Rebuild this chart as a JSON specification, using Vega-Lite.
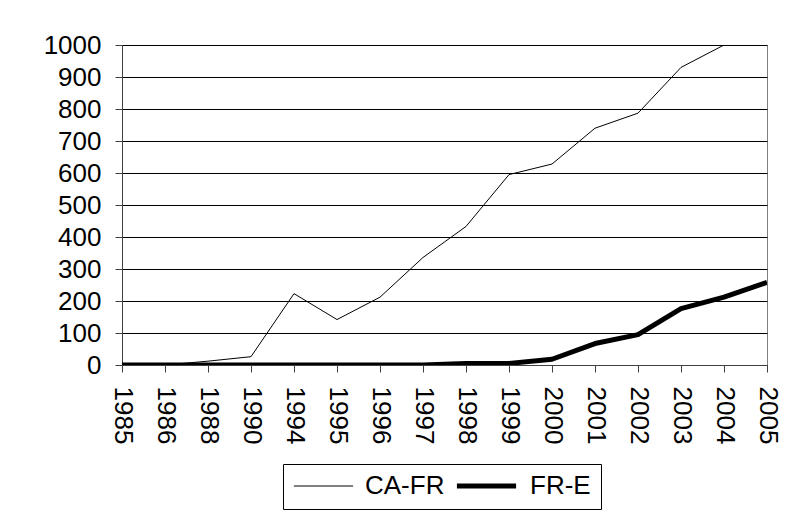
{
  "$schema": "https://vega.github.io/schema/vega-lite/v6.json",
  "width": 645,
  "height": 320,
  "autosize": {"type": "none"},
  "padding": {"left": 122, "top": 45, "right": 38, "bottom": 148},
  "background": "white",
  "config": {
    "font": "Liberation Sans",
    "view": {"stroke": "#808080", "strokeWidth": 1}
  },
  "data": {
    "values": [
      {"year": "1985", "series": "CA-FR", "value": 0},
      {"year": "1986", "series": "CA-FR", "value": 0},
      {"year": "1988", "series": "CA-FR", "value": 12},
      {"year": "1990", "series": "CA-FR", "value": 26},
      {"year": "1994", "series": "CA-FR", "value": 223},
      {"year": "1995", "series": "CA-FR", "value": 142},
      {"year": "1996", "series": "CA-FR", "value": 212},
      {"year": "1997", "series": "CA-FR", "value": 336},
      {"year": "1998", "series": "CA-FR", "value": 433},
      {"year": "1999", "series": "CA-FR", "value": 595},
      {"year": "2000", "series": "CA-FR", "value": 628},
      {"year": "2001", "series": "CA-FR", "value": 740},
      {"year": "2002", "series": "CA-FR", "value": 787},
      {"year": "2003", "series": "CA-FR", "value": 930},
      {"year": "2004", "series": "CA-FR", "value": 1000},
      {"year": "2005", "series": "CA-FR", "value": 1000},
      {"year": "1985", "series": "FR-E", "value": 0},
      {"year": "1986", "series": "FR-E", "value": 0},
      {"year": "1988", "series": "FR-E", "value": 0},
      {"year": "1990", "series": "FR-E", "value": 0},
      {"year": "1994", "series": "FR-E", "value": 0},
      {"year": "1995", "series": "FR-E", "value": 0},
      {"year": "1996", "series": "FR-E", "value": 0},
      {"year": "1997", "series": "FR-E", "value": 0},
      {"year": "1998", "series": "FR-E", "value": 5},
      {"year": "1999", "series": "FR-E", "value": 5},
      {"year": "2000", "series": "FR-E", "value": 18},
      {"year": "2001", "series": "FR-E", "value": 67},
      {"year": "2002", "series": "FR-E", "value": 95},
      {"year": "2003", "series": "FR-E", "value": 176},
      {"year": "2004", "series": "FR-E", "value": 212},
      {"year": "2005", "series": "FR-E", "value": 258}
    ]
  },
  "mark": {"type": "line", "color": "black", "strokeJoin": "round", "clip": true},
  "encoding": {
    "x": {
      "field": "year",
      "type": "ordinal",
      "scale": {"type": "point", "padding": 0},
      "axis": {
        "title": null,
        "labelAngle": 90,
        "labelAlign": "left",
        "labelBaseline": "middle",
        "labelFontSize": 26,
        "labelColor": "black",
        "labelPadding": 14,
        "labelOverlap": false,
        "tickSize": 7,
        "tickColor": "#404040",
        "domainColor": "#404040",
        "grid": false
      }
    },
    "y": {
      "field": "value",
      "type": "quantitative",
      "scale": {"domain": [0, 1000], "nice": false},
      "axis": {
        "title": null,
        "values": [0, 100, 200, 300, 400, 500, 600, 700, 800, 900, 1000],
        "format": "d",
        "labelFontSize": 26,
        "labelColor": "black",
        "labelPadding": 14,
        "labelOverlap": false,
        "tickSize": 7,
        "tickColor": "#404040",
        "domainColor": "#404040",
        "grid": true,
        "gridColor": "black",
        "gridOpacity": 1,
        "gridWidth": 1
      }
    },
    "strokeWidth": {
      "field": "series",
      "type": "nominal",
      "scale": {"domain": ["CA-FR", "FR-E"], "range": [1, 5]},
      "legend": {
        "title": null,
        "orient": "none",
        "legendX": 161,
        "legendY": 419,
        "direction": "horizontal",
        "strokeColor": "black",
        "padding": 10,
        "labelFontSize": 26,
        "labelColor": "black",
        "symbolType": "stroke",
        "symbolStrokeColor": "black",
        "symbolSize": 3500,
        "clipHeight": 24,
        "columnPadding": 9,
        "labelOffset": 11
      }
    }
  }
}
